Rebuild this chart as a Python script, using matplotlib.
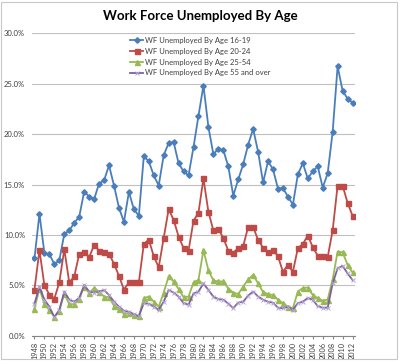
import numpy as np
import matplotlib.pyplot as plt
from matplotlib.patches import Rectangle

years = list(range(1948, 2013))

age_16_19 = [7.7, 12.1, 8.2, 8.1, 7.1, 7.5, 10.1, 10.45, 11.2, 11.8,
             14.3, 13.8, 13.55, 15.1, 15.4, 16.9, 14.9, 12.7, 11.3, 14.25,
             12.55, 11.9, 17.8, 17.3, 15.9, 14.9, 17.9, 19.1, 19.2, 17.1,
             16.3, 15.9, 18.7, 21.8, 24.8, 20.7, 18.0, 18.55, 18.4, 16.8,
             13.9, 15.5, 17.0, 18.95, 20.5, 18.25, 15.2, 17.3, 16.5, 14.6,
             14.65, 13.8, 13.0, 16.0, 17.1, 15.6, 16.3, 16.8, 14.7, 16.1,
             20.2, 26.7, 24.3, 23.5, 23.1]
age_20_24 = [4.6, 8.5, 5.0, 4.1, 3.7, 5.3, 8.6, 5.3, 5.9, 8.1,
             8.35, 7.8, 9.0, 8.45, 8.3, 8.15, 7.15, 5.95, 4.6, 5.3,
             5.3, 5.3, 9.1, 9.55, 7.9, 6.8, 9.7, 12.55, 11.5, 9.85,
             8.7, 8.45, 11.4, 12.2, 15.6, 12.3, 10.45, 10.6, 9.7, 8.45,
             8.25, 8.7, 8.9, 10.8, 10.8, 9.5, 8.75, 8.3, 8.5, 7.9,
             6.35, 7.05, 6.35, 8.7, 9.1, 9.95, 8.8, 7.95, 7.95, 7.8,
             10.45, 14.9, 14.9, 13.2, 11.9]
age_25_54 = [2.7, 4.7, 3.15, 2.6, 1.9, 2.5, 4.2, 3.15, 3.15, 3.65,
             4.9, 4.25, 4.75, 4.4, 3.9, 3.85, 3.0, 2.7, 2.2, 2.25,
             2.1, 1.95, 3.75, 3.9, 3.4, 2.9, 4.3, 5.9, 5.4, 4.65,
             3.85, 3.9, 5.3, 5.55, 8.5, 6.5, 5.5, 5.4, 5.4, 4.7,
             4.3, 4.15, 4.9, 5.6, 6.05, 5.2, 4.35, 4.15, 4.05, 3.6,
             3.25, 2.9, 2.75, 4.4, 4.75, 4.8, 4.05, 3.75, 3.5, 3.6,
             5.6, 8.35, 8.3, 7.05, 6.3]
age_55_over = [3.2, 4.85, 3.6, 2.9, 1.85, 2.6, 4.4, 3.6, 3.4, 3.75,
               5.05, 4.4, 4.3, 4.4, 4.55, 4.05, 3.4, 2.9, 2.5, 2.4,
               2.15, 1.95, 3.25, 3.2, 2.9, 2.6, 3.4, 4.55, 4.3, 3.9,
               3.25, 3.1, 4.2, 4.4, 5.2, 4.55, 3.9, 3.65, 3.6, 3.2,
               2.75, 3.3, 3.4, 4.0, 4.4, 3.9, 3.6, 3.4, 3.3, 2.8,
               2.75, 2.9, 2.6, 3.25, 3.4, 3.75, 3.6, 2.95, 2.8, 2.8,
               5.2, 6.7, 6.95, 6.2, 5.55]

labels = ['WF Unemployed By Age 16-19', 'WF Unemployed By Age 20-24',
          'WF Unemployed By Age 25-54', 'WF Unemployed By Age 55 and over']

plt.rcParams['font.family'] = ['Lato', 'DejaVu Sans']

fig = plt.figure(figsize=(4.0, 3.63), dpi=100)
fig.patches.append(Rectangle((0.003, 0.012), 0.99, 0.983, transform=fig.transFigure,
                             fill=False, edgecolor='#c8c8c8', linewidth=0.8))
ax = fig.add_axes([0.08, 0.0744, 0.8075, 0.8346])

x = np.arange(len(years))
ax.plot(x, np.array(age_16_19) / 100, color='#4a7ebb', lw=1.3, marker='D', ms=2.8,
        label=labels[0])
ax.plot(x, np.array(age_20_24) / 100, color='#be4b48', lw=1.3, marker='s', ms=3.6,
        label=labels[1])
ax.plot(x, np.array(age_25_54) / 100, color='#98b954', lw=1.3, marker='^', ms=3.6,
        label=labels[2])
ax.plot(x, np.array(age_55_over) / 100, color='#7d60a0', lw=1.3, marker='x', ms=3.2,
        mec='#b9a8d4', mew=0.7, label=labels[3])

ax.set_xlim(-0.5, len(years) - 0.5)
ax.set_ylim(0, 0.30)
ax.set_yticks(np.arange(0, 0.31, 0.05))
ax.yaxis.set_major_formatter(plt.FuncFormatter(lambda v, p: f'{v*100:.1f}%'))
ax.set_xticks(x[::2])
ax.set_xticklabels([str(y) for y in years[::2]], rotation=90)
ax.tick_params(axis='y', length=0, labelsize=5.5, colors='#404040', pad=5)
ax.tick_params(axis='x', length=2.5, labelsize=5.3, colors='#404040', pad=2,
               color='#868686')
ax.grid(axis='y', color='#c0c0c0', lw=0.8)
ax.set_axisbelow(True)
for s in ['top', 'right', 'left']:
    ax.spines[s].set_visible(False)
ax.spines['bottom'].set_color('#868686')
ax.spines['bottom'].set_linewidth(0.8)

fig.text(0.5, 0.955, 'Work Force Unemployed By Age', ha='center', va='center',
         fontsize=9.5, fontweight='bold')

ax.legend(loc='upper center', bbox_to_anchor=(0.52, 1.01), frameon=False,
          fontsize=5.5, handlelength=1.8, handletextpad=0.2, labelspacing=0.5,
          labelcolor='#404040')

fig.savefig('out.png', dpi=100)
